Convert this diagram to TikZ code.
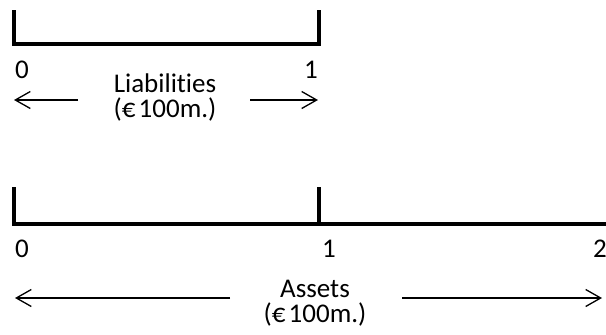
\documentclass[tikz,border=0pt]{standalone}
\usepackage{fontspec}
\setmainfont[Ligatures={NoCommon}]{Carlito}
\usetikzlibrary{arrows.meta}
\begin{document}
\begin{tikzpicture}[x=1pt,y=-1pt,
  scaleline/.style={line width=4pt, line join=miter},
  axlabel/.style={font=\fontsize{27}{29}\selectfont, inner sep=0pt},
  txtlabel/.style={font=\fontsize{27}{25}\selectfont, inner sep=0pt, anchor=base, align=center},
  spanarrow/.style={line width=1.3pt, -{Straight Barb[length=15pt,width=17pt,line width=1.3pt]}}]
\useasboundingbox (0,0) rectangle (606,335);
% top scale
\coordinate (t0top) at (14,10);
\coordinate (t0) at (14,44);
\coordinate (t1) at (319,44);
\coordinate (t1top) at (319,10);
\draw[scaleline] (t0top) -- (t0) -- (t1) -- (t1top);
\node[axlabel] (tl0) at (22,70) {0};
\node[axlabel] (tl1) at (311,70) {1};
\node[txtlabel] (liab) at (165,117) {Liabilities\\(€\hspace{0.12em}100m.)};
\coordinate (tal) at (78,100);
\coordinate (talend) at (14,100);
\coordinate (tar) at (250,100);
\coordinate (tarend) at (318,100);
\draw[spanarrow] (tal) -- (talend);
\draw[spanarrow] (tar) -- (tarend);
% bottom scale
\coordinate (b0top) at (14,187);
\coordinate (b0) at (14,224);
\coordinate (b1top) at (319,187);
\coordinate (b1) at (319,224);
\coordinate (b2) at (608,224);
\draw[scaleline] (b0top) -- (b0) -- (b2);
\draw[scaleline] (b1top) -- (b1);
\node[axlabel] (bl0) at (22,249) {0};
\node[axlabel] (bl1) at (329,249) {1};
\node[axlabel] (bl2) at (600,249) {2};
\node[txtlabel] (assets) at (315,322) {Assets\\(€\hspace{0.12em}100m.)};
\coordinate (bal) at (230,298);
\coordinate (balend) at (15,298);
\coordinate (bar) at (402,298);
\coordinate (barend) at (602,298);
\draw[spanarrow] (bal) -- (balend);
\draw[spanarrow] (bar) -- (barend);
\end{tikzpicture}
\end{document}
